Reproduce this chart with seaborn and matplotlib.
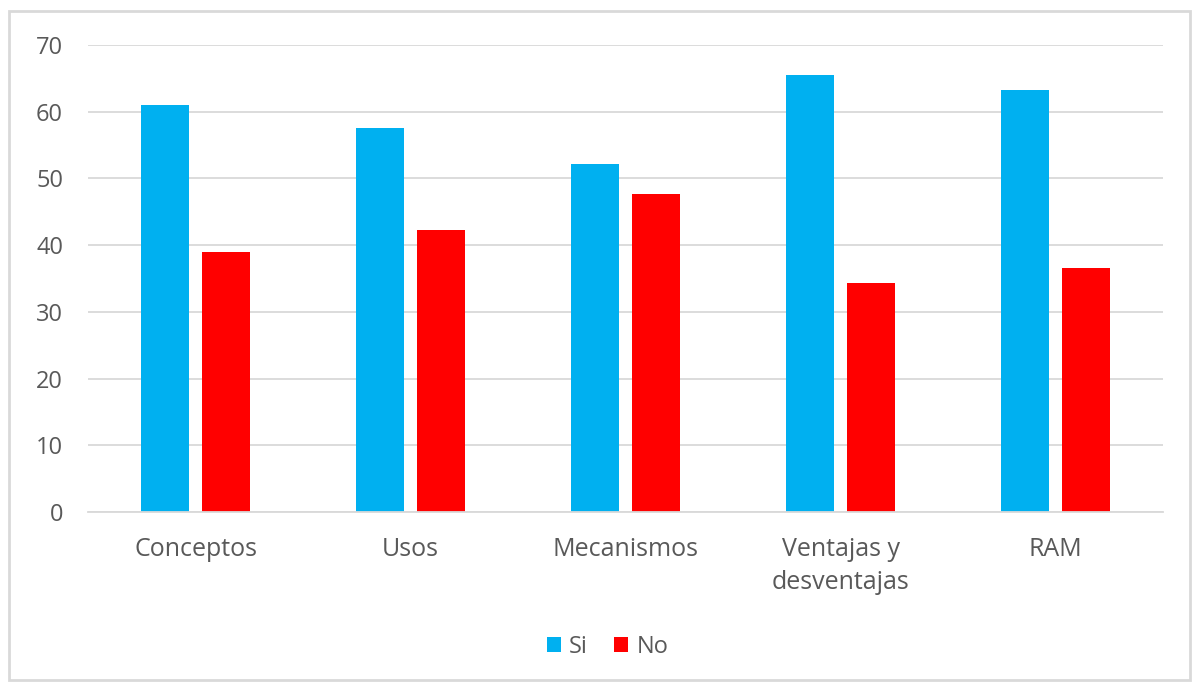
import matplotlib
matplotlib.use("Agg")
import matplotlib.pyplot as plt
import matplotlib.patches as mpatches
import pandas as pd
import seaborn as sns

categories = ["Conceptos", "Usos", "Mecanismos", "Ventajas y\ndesventajas", "RAM"]
si_values = [61.0, 57.6, 52.2, 65.5, 63.3]
no_values = [38.9, 42.3, 47.7, 34.4, 36.6]
series = ["Si", "No"]
colors = {"Si": "#00B0F0", "No": "#FF0000"}

df = pd.DataFrame({
    "categoria": categories * 2,
    "serie": ["Si"] * len(categories) + ["No"] * len(categories),
    "valor": si_values + no_values,
})

sns.set_style("white")
plt.rcParams["font.family"] = ["Open Sans", "DejaVu Sans"]
text_color = "#595959"
grid_color = "#D9D9D9"

fig = plt.figure(figsize=(11.96, 6.86), dpi=100)
ax = fig.add_axes([0.0736, 0.2536, 0.8988, 0.6808])

sns.barplot(
    data=df, x="categoria", y="valor", hue="serie", hue_order=series,
    palette=colors, width=0.572, gap=0.22, ax=ax, legend=True,
    saturation=1, edgecolor="none",
)

ax.set_ylim(0, 70)
ax.set_xlim(-0.5, 4.5)
ax.set_yticks(range(0, 71, 10))
ax.yaxis.grid(True, color=grid_color, linewidth=1.3)
ax.set_axisbelow(True)
for side in ["left", "right", "top"]:
    ax.spines[side].set_visible(False)
ax.spines["bottom"].set_color(grid_color)
ax.spines["bottom"].set_linewidth(1.3)
ax.set_xlabel("")
ax.set_ylabel("")
ax.tick_params(axis="y", length=0, labelsize=17, colors=text_color, pad=18)
ax.tick_params(axis="x", length=0, labelsize=18, colors=text_color, pad=18)
for lbl in ax.get_xticklabels():
    lbl.set_linespacing(1.4)

handles, labels = ax.get_legend_handles_labels()
ax.get_legend().remove()
fig.legend(
    handles, labels, loc="center", bbox_to_anchor=(0.508, 0.057), ncol=2,
    frameon=False, fontsize=17, handlelength=0.6, handleheight=0.6,
    handletextpad=0.35, columnspacing=1.1, labelcolor=text_color,
)

fig.patches.append(mpatches.Rectangle(
    (9 / 1196, 6 / 686), 1181 / 1196, 669 / 686, transform=fig.transFigure,
    fill=False, edgecolor=grid_color, linewidth=2,
))

fig.savefig("out.png", dpi=100)
plt.close(fig)
